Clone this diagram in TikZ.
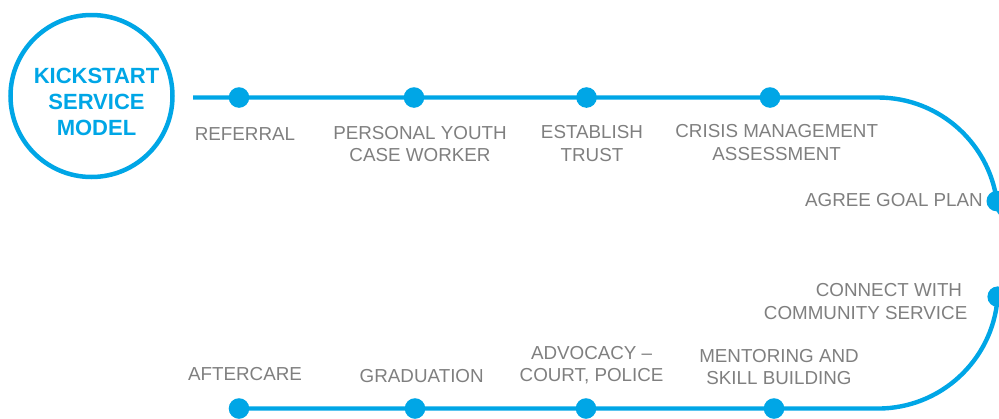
\documentclass[tikz,border=0pt]{standalone}
\usepackage{fontspec}
\setmainfont{Liberation Sans}
\definecolor{kblue}{HTML}{00A6E6}
\definecolor{kgray}{HTML}{7F7F7F}
% multi-line labels: baseline of the node is the baseline of the first line
\newcommand{\stackc}[1]{\vtop{\halign{\hfil##\hfil\cr #1\crcr}}}
\newcommand{\stackr}[1]{\vtop{\halign{\hfil##\cr #1\crcr}}}
\begin{document}
\begin{tikzpicture}[x=1pt,y=-1pt,
  track/.style={draw=kblue,line width=4.4pt},
  stop/.style={circle,fill=kblue,minimum size=20.6pt,inner sep=0pt},
  hubring/.style={circle,draw=kblue,line width=4.5pt,minimum size=162pt,inner sep=0pt},
  hubtext/.style={text=kblue,font=\bfseries\fontsize{22}{25.85}\selectfont,inner sep=0pt,anchor=base},
  lbl/.style={text=kgray,font=\fontsize{18.8}{22.6}\selectfont,inner sep=0pt,anchor=base}]
\clip (0,0) rectangle (999,418);

% hub
\node[hubring] (hub) at (91.5,96) {};
\node[hubtext] (title) at (96.5,83.3) {\stackc{KICKSTART\cr SERVICE\cr MODEL}};

% track geometry
\coordinate (t0) at (193,97.5);
\coordinate (tA) at (878,97.5);

% stops
\node[stop] (s1) at (239,97.5) {};
\node[stop] (s2) at (414,97.5) {};
\node[stop] (s3) at (586.5,97.5) {};
\node[stop] (s4) at (770,97.5) {};
\node[stop] (s5) at (996.8,201.1) {};
\node[stop] (s6) at (997.7,296.7) {};
\node[stop] (s7) at (774,408.5) {};
\node[stop] (s8) at (586,408.5) {};
\node[stop] (s9) at (415,408.5) {};
\node[stop] (s10) at (239,408.5) {};

% the track itself; its turn runs out past the right edge
\path[track] (t0) -- (tA) arc[start angle=90,end angle=5,radius=120pt]
  .. controls (998.5,219) and (1040,240) .. (1040,253.25)
  .. controls (1040,266.5) and (998.5,287.5) .. (997.5,299)
  arc[start angle=-5,end angle=-90,radius=120pt] -- (s10.center);

% labels
\node[lbl] (l1) at (245,140) {REFERRAL};
\node[lbl] (l2) at (420,139.3) {\stackc{PERSONAL YOUTH\cr CASE WORKER}};
\node[lbl] (l3) at (592,138.5) {\stackc{ESTABLISH\cr TRUST}};
\node[lbl] (l4) at (776.7,137.5) {\stackc{CRISIS MANAGEMENT\cr ASSESSMENT}};
\node[lbl,anchor=base east] (l5) at (983,206.7) {AGREE GOAL PLAN};
\node[lbl,anchor=base east] (l6) at (967.5,296.7) {\stackr{CONNECT WITH\ \cr COMMUNITY SERVICE}};
\node[lbl] (l7) at (779,362.3) {\stackc{MENTORING AND\cr SKILL BUILDING}};
\node[lbl] (l8) at (591.6,359.3) {\stackc{ADVOCACY –\cr COURT, POLICE}};
\node[lbl] (l9) at (421.7,382.7) {GRADUATION};
\node[lbl] (l10) at (245,380) {AFTERCARE};
\end{tikzpicture}
\end{document}
